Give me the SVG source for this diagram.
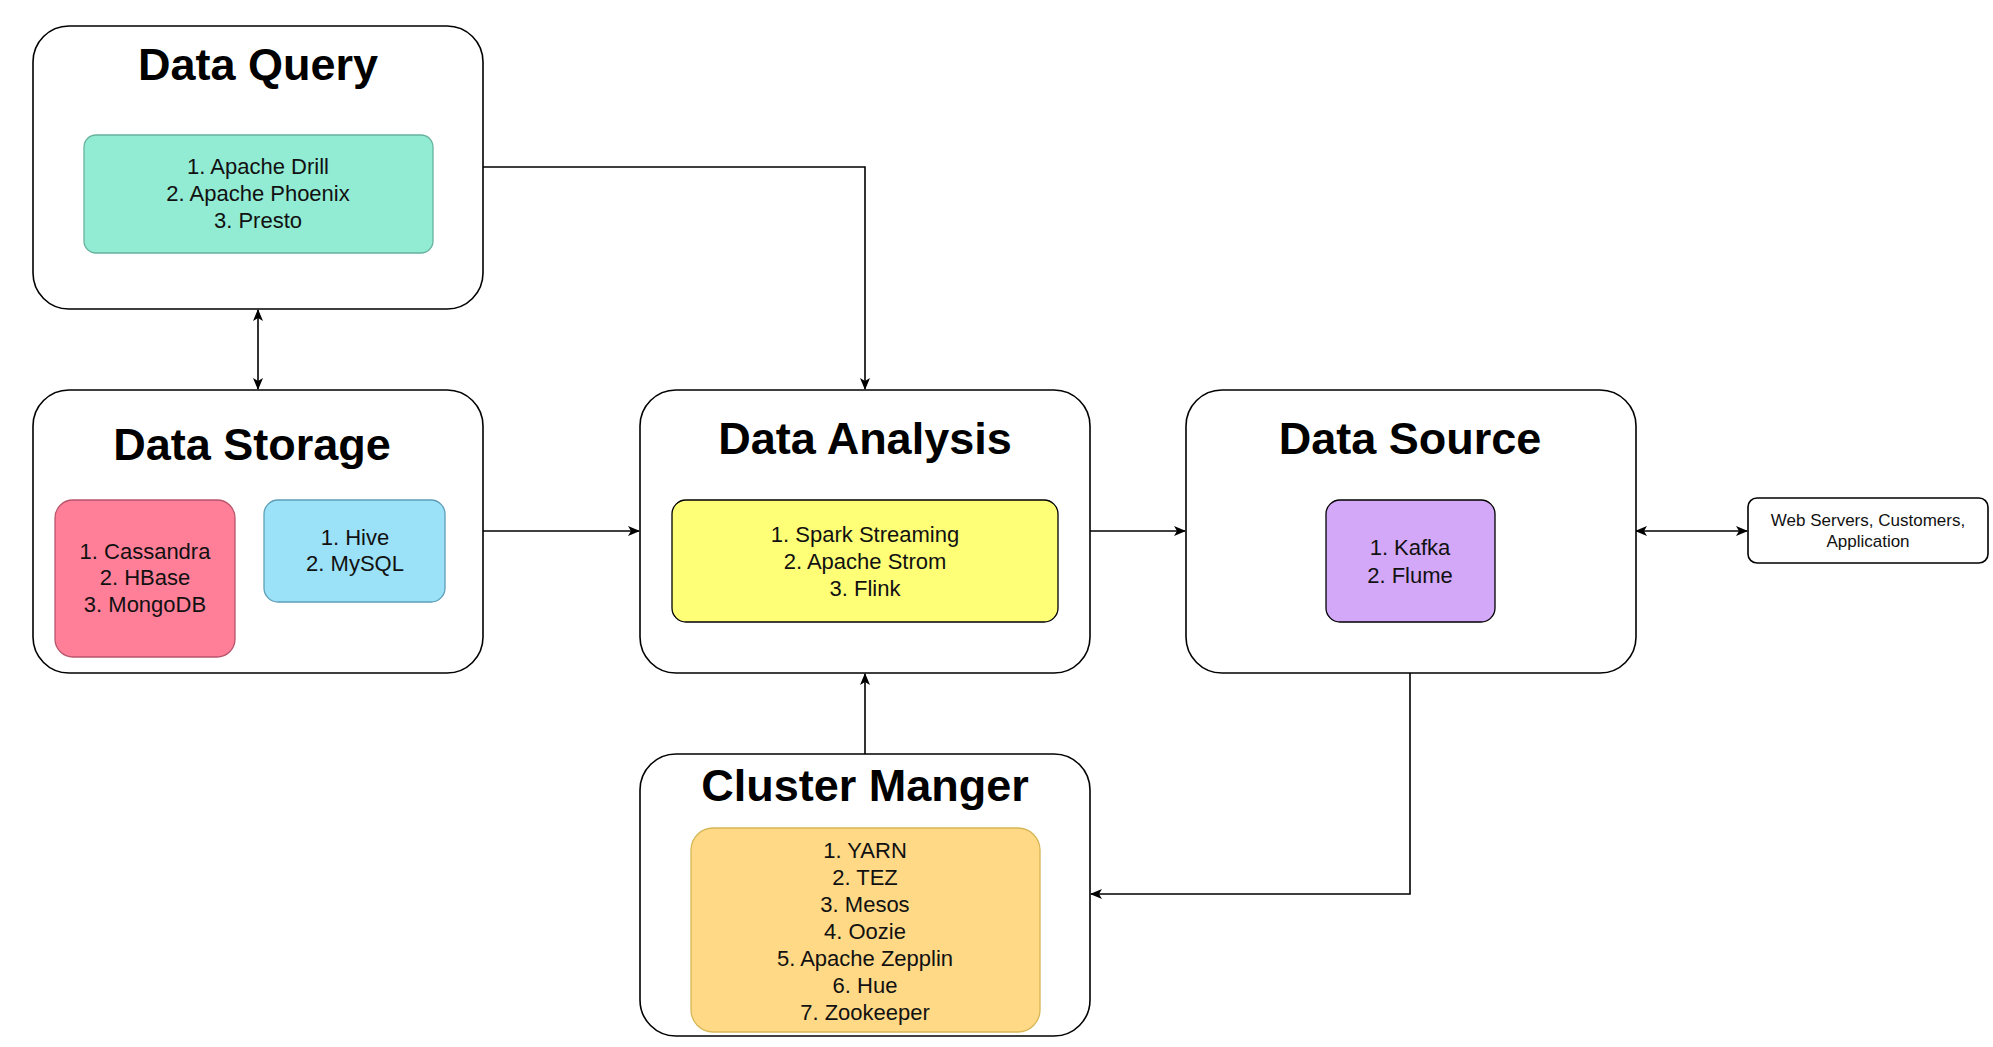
<svg xmlns="http://www.w3.org/2000/svg" width="1993" height="1047" viewBox="0 0 1993 1047">
<defs>
<style>
.box{fill:#fff;stroke:#000;stroke-width:1.6}
.title{font-family:"Liberation Sans",Arial,sans-serif;font-weight:bold;font-size:45px;fill:#000;text-anchor:middle}
.item{font-family:"Liberation Sans",Arial,sans-serif;font-size:22px;fill:#111;text-anchor:middle}
.small{font-family:"Liberation Sans",Arial,sans-serif;font-size:17px;fill:#111;text-anchor:middle}
.edge{fill:none;stroke:#000;stroke-width:1.6}
</style>
<marker id="arr" viewBox="0 0 12 10" refX="11" refY="5" markerWidth="12" markerHeight="10" markerUnits="userSpaceOnUse" orient="auto-start-reverse">
<path d="M0,0 L12,5 L0,10 L3,5 z" fill="#000"/>
</marker>
</defs>
<rect width="1993" height="1047" fill="#fff"/>

<g id="connectors">
<path class="edge" d="M258,310 L258,389" marker-start="url(#arr)" marker-end="url(#arr)"/>
<path class="edge" d="M483,167 L865,167 L865,389" marker-end="url(#arr)"/>
<path class="edge" d="M483,531 L639,531" marker-end="url(#arr)"/>
<path class="edge" d="M1090,531 L1185,531" marker-end="url(#arr)"/>
<path class="edge" d="M1636,531 L1747,531" marker-start="url(#arr)" marker-end="url(#arr)"/>
<path class="edge" d="M865,754 L865,674" marker-end="url(#arr)"/>
<path class="edge" d="M1410,673 L1410,894 L1091,894" marker-end="url(#arr)"/>
</g>

<g id="data-query">
<rect class="box" x="33" y="26" width="450" height="283" rx="36"/>
<text class="title" x="258" y="80">Data Query</text>
<rect x="84" y="135" width="349" height="118" rx="12" fill="#92ebd3" stroke="#67b39e" stroke-width="1.3"/>
<text class="item" x="258" y="174">1. Apache Drill</text>
<text class="item" x="258" y="201">2. Apache Phoenix</text>
<text class="item" x="258" y="228">3. Presto</text>
</g>

<g id="data-storage">
<rect class="box" x="33" y="390" width="450" height="283" rx="36"/>
<text class="title" x="252" y="460">Data Storage</text>
<rect x="55" y="500" width="180" height="157" rx="18" fill="#ff7f99" stroke="#b8546b" stroke-width="1.3"/>
<text class="item" x="145" y="559">1. Cassandra</text>
<text class="item" x="145" y="585">2. HBase</text>
<text class="item" x="145" y="612">3. MongoDB</text>
<rect x="264" y="500" width="181" height="102" rx="14" fill="#9be1f8" stroke="#5e9fb8" stroke-width="1.3"/>
<text class="item" x="355" y="545">1. Hive</text>
<text class="item" x="355" y="571">2. MySQL</text>
</g>

<g id="data-analysis">
<rect class="box" x="640" y="390" width="450" height="283" rx="36"/>
<text class="title" x="865" y="454">Data Analysis</text>
<rect x="672" y="500" width="386" height="122" rx="14" fill="#ffff77" stroke="#000" stroke-width="1.3"/>
<text class="item" x="865" y="542">1. Spark Streaming</text>
<text class="item" x="865" y="569">2. Apache Strom</text>
<text class="item" x="865" y="596">3. Flink</text>
</g>

<g id="data-source">
<rect class="box" x="1186" y="390" width="450" height="283" rx="36"/>
<text class="title" x="1410" y="454">Data Source</text>
<rect x="1326" y="500" width="169" height="122" rx="14" fill="#d4a8f8" stroke="#000" stroke-width="1.3"/>
<text class="item" x="1410" y="555">1. Kafka</text>
<text class="item" x="1410" y="583">2. Flume</text>
</g>

<g id="cluster-manger">
<rect class="box" x="640" y="754" width="450" height="282" rx="36"/>
<text class="title" x="865" y="801">Cluster Manger</text>
<rect x="691" y="828" width="349" height="204" rx="22" fill="#ffd986" stroke="#d6b656" stroke-width="1.3"/>
<text class="item" x="865" y="858">1. YARN</text>
<text class="item" x="865" y="885">2. TEZ</text>
<text class="item" x="865" y="912">3. Mesos</text>
<text class="item" x="865" y="939">4. Oozie</text>
<text class="item" x="865" y="966">5. Apache Zepplin</text>
<text class="item" x="865" y="993">6. Hue</text>
<text class="item" x="865" y="1020">7. Zookeeper</text>
</g>

<g id="web-servers">
<rect class="box" x="1748" y="498" width="240" height="65" rx="9"/>
<text class="small" x="1868" y="526">Web Servers, Customers,</text>
<text class="small" x="1868" y="547">Application</text>
</g>
</svg>
